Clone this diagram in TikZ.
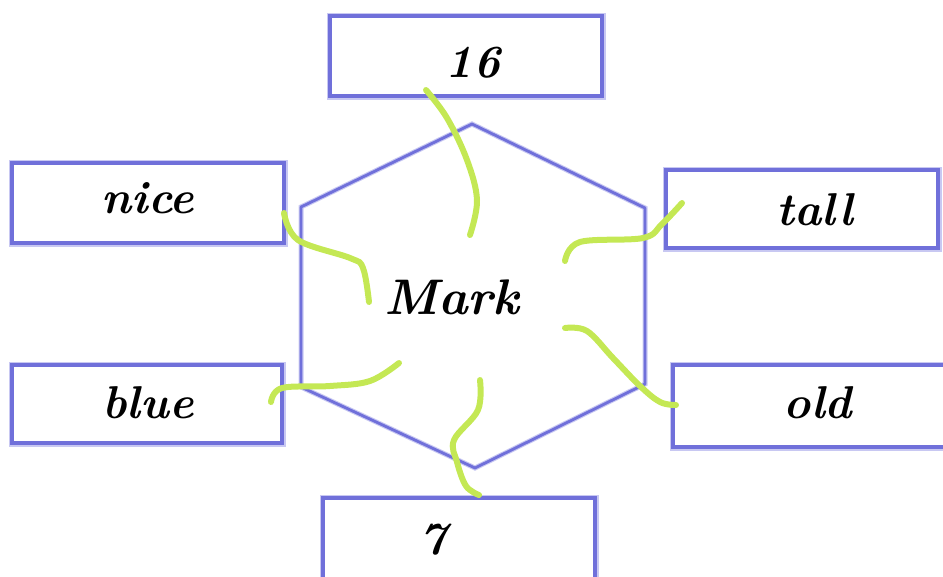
\documentclass[tikz,border=0pt]{standalone}
\usetikzlibrary{calc}
\definecolor{boxblue}{RGB}{112,112,218}
\definecolor{glowblue}{RGB}{200,200,242}
\definecolor{leafgreen}{RGB}{196,232,84}
\tikzset{
  wordbox/.style={draw=boxblue, line width=3.4pt, fill=white, inner sep=0pt,
    preaction={draw=glowblue, line width=7pt}},
  wordtext/.style={font=\fontsize{46}{52}\selectfont\bfseries\itshape, inner sep=0pt},
  centre/.style={font=\fontsize{50}{56}\selectfont\bfseries\itshape, inner sep=0pt},
  leaf/.style={draw=leafgreen, line width=6pt, line cap=round, line join=round},
  hexline/.style={draw=boxblue, line width=2.8pt, line join=round,
    preaction={draw=glowblue, line width=5pt}}
}
\begin{document}
\begin{tikzpicture}[x=1pt,y=-1pt]
\useasboundingbox (0,0) rectangle (943,576);
% hexagon
\coordinate (h1) at (472,124);
\coordinate (h2) at (645,208);
\coordinate (h3) at (645,384);
\coordinate (h4) at (475,468);
\coordinate (h5) at (301,387);
\coordinate (h6) at (301,207);
\draw[hexline] (h1) -- (h2) -- (h3) -- (h4) -- (h5) -- (h6) -- cycle;
\node[centre] (mark) at (452,297) {Mark};
% word boxes
\node[wordbox, minimum width=272pt, minimum height=80pt] (n16) at (466,56) {};
\node[wordtext] (t16) at (473,63) {16};
\node[wordbox, minimum width=272pt, minimum height=80pt] (nice) at (148,203) {};
\node[wordtext] (tnice) at (148,198) {nice};
\node[wordbox, minimum width=272pt, minimum height=78pt] (tall) at (802,209) {};
\node[wordtext] (ttall) at (815,210) {tall};
\node[wordbox, minimum width=270pt, minimum height=78pt] (blue) at (147,404) {};
\node[wordtext] (tblue) at (148,403) {blue};
\node[wordbox, minimum width=280pt, minimum height=82pt] (old) at (813,406) {};
\node[wordtext] (told) at (818,403) {old};
\node[wordbox, minimum width=272pt, minimum height=100pt] (seven) at (459,548) {};
\node[wordtext] (tseven) at (433,540) {7};
% curve ends
\coordinate (a1) at (426,90);   \coordinate (b1) at (470,235);
\coordinate (a2) at (284,213);  \coordinate (b2) at (369,302);
\coordinate (a3) at (682,203);  \coordinate (b3) at (565,261);
\coordinate (a4) at (676,405);  \coordinate (b4) at (565,328);
\coordinate (a5) at (271,402);  \coordinate (b5) at (399,363);
\coordinate (a6) at (479,495);  \coordinate (b6) at (480,380);
% connectors
\draw[leaf] plot[smooth, tension=0.6] coordinates {(a1) (447,118) (467,160) (477,200) (b1)};
\draw[leaf] plot[smooth, tension=0.6] coordinates {(a2) (298,240) (350,258) (363,268) (b2)};
\draw[leaf] plot[smooth, tension=0.6] coordinates {(a3) (662,224) (643,238) (580,242) (b3)};
\draw[leaf] plot[smooth, tension=0.6] coordinates {(a4) (660,402) (640,386) (613,358) (587,331) (b4)};
\draw[leaf] plot[smooth, tension=0.6] coordinates {(a5) (282,388) (330,386) (370,381) (b5)};
\draw[leaf] plot[smooth, tension=0.6] coordinates {(a6) (466,486) (457,462) (454,440) (478,410) (b6)};
\end{tikzpicture}
\end{document}
